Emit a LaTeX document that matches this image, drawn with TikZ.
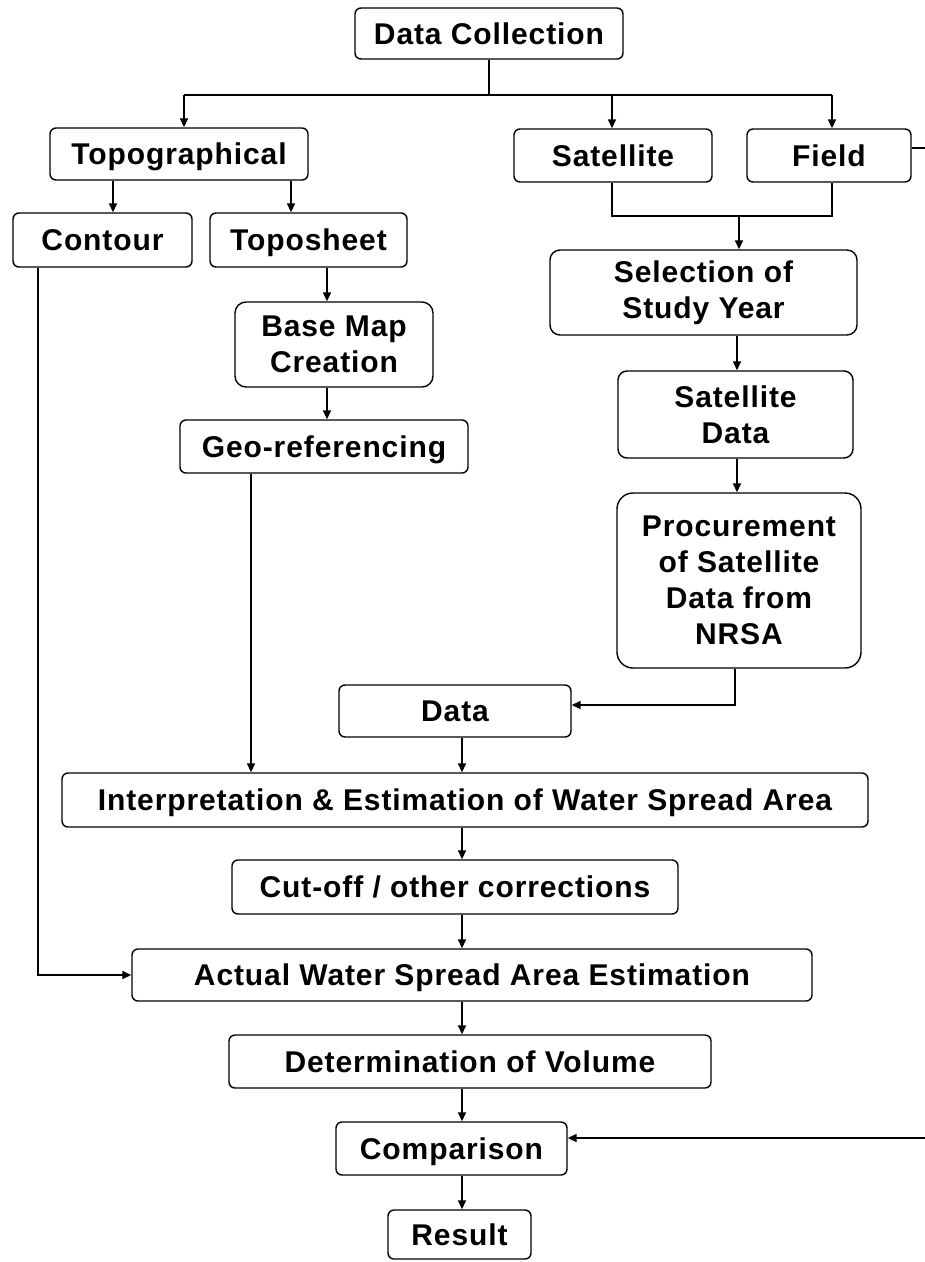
\documentclass[tikz,border=0pt]{standalone}
\usepackage{fontspec}
\setmainfont{Liberation Sans}[LetterSpace=3]
\usetikzlibrary{arrows.meta,calc}
\begin{document}
\begin{tikzpicture}[x=1pt,y=-1pt,
  box/.style={draw, line width=1.4pt, rounded corners=6pt, align=center,
    font=\fontsize{30}{36}\selectfont\bfseries, inner sep=0pt},
  sbox/.style={box, text height=21.5pt, text depth=0pt},
  con/.style={line width=1.5pt},
  arr/.style={con, -{Triangle[length=9pt,width=8pt]}}]
\useasboundingbox (0,0) rectangle (925,1262);
% nodes
\node[sbox, minimum width=268, minimum height=51] (dc) at (489,33.5) {Data Collection};
\node[sbox, minimum width=258, minimum height=52] (topo) at (179,154) {Topographical};
\node[sbox, minimum width=198, minimum height=53] (sat) at (613,155.5) {Satellite};
\node[sbox, minimum width=164, minimum height=53] (field) at (829,155.5) {Field};
\node[sbox, minimum width=179, minimum height=54] (contour) at (102.5,240) {Contour};
\node[sbox, minimum width=197, minimum height=54] (toposheet) at (308.5,240) {Toposheet};
\node[box, rounded corners=10pt, minimum width=307, minimum height=85] (sel) at (703.5,292.5) {Selection of\\Study Year};
\node[box, rounded corners=11pt, minimum width=198, minimum height=85] (basemap) at (334,344.5) {Base Map\\Creation};
\node[sbox, minimum width=288, minimum height=53] (geo) at (324,446.5) {Geo-referencing};
\node[box, rounded corners=9pt, minimum width=235, minimum height=87] (satdata) at (735.5,414.5) {Satellite\\Data};
\node[box, rounded corners=16pt, minimum width=244, minimum height=175] (proc) at (739,580.5) {Procurement\\of Satellite\\Data from\\NRSA};
\node[sbox, minimum width=232, minimum height=52] (data) at (455,711) {Data};
\node[sbox, minimum width=806, minimum height=54] (interp) at (465,800) {Interpretation \& Estimation of Water Spread Area};
\node[sbox, minimum width=446, minimum height=54] (cut) at (455,887) {Cut-off / other corrections};
\node[sbox, minimum width=680, minimum height=52] (actual) at (472,975) {Actual Water Spread Area Estimation};
\node[sbox, minimum width=482, minimum height=53] (det) at (470,1061.5) {Determination of Volume};
\node[sbox, minimum width=231, minimum height=53] (comp) at (451.5,1148.5) {Comparison};
\node[sbox, minimum width=143, minimum height=49] (result) at (459.5,1234.5) {Result};
% helper coordinates
\coordinate (hy) at (0,95);
\coordinate (xT) at (184,0);
\coordinate (xS) at (612,0);
\coordinate (xF) at (832,0);
\coordinate (jy) at (216,216);
\coordinate (xJ) at (739,0);
\coordinate (xC1) at (113,0);
\coordinate (xC2) at (291,0);
\coordinate (xCL) at (38,0);
\coordinate (xTS) at (327,0);
\coordinate (xG) at (251,0);
\coordinate (xR) at (737,0);
\coordinate (xP) at (735,0);
\coordinate (dy) at (0,705);
\coordinate (xM) at (462,0);
\coordinate (re1) at (925,148);
\coordinate (re2) at (925,1138);
% connectors
\draw[con] (dc.south) -- (dc.south |- hy);
\draw[con] (xT |- hy) -- (xF |- hy);
\draw[arr] (xT |- hy) -- (xT |- topo.north);
\draw[arr] (xS |- hy) -- (xS |- sat.north);
\draw[arr] (xF |- hy) -- (xF |- field.north);
\draw[con] (field.east |- re1) -- (re1);
\draw[con] (xS |- sat.south) -- (xS |- jy) -- (xF |- jy) -- (xF |- field.south);
\draw[arr] (xJ |- jy) -- (xJ |- sel.north);
\draw[arr] (xC1 |- topo.south) -- (xC1 |- contour.north);
\draw[arr] (xC2 |- topo.south) -- (xC2 |- toposheet.north);
\draw[arr] (xTS |- toposheet.south) -- (xTS |- basemap.north);
\draw[arr] (xTS |- basemap.south) -- (xTS |- geo.north);
\draw[arr] (xR |- sel.south) -- (xR |- satdata.north);
\draw[arr] (xR |- satdata.south) -- (xR |- proc.north);
\draw[arr] (xP |- proc.south) -- (xP |- dy) -- (data.east |- dy);
\draw[arr] (xG |- geo.south) -- (xG |- interp.north);
\draw[arr] (xM |- data.south) -- (xM |- interp.north);
\draw[arr] (xM |- interp.south) -- (xM |- cut.north);
\draw[arr] (xM |- cut.south) -- (xM |- actual.north);
\draw[arr] (xCL |- contour.south) |- (actual.west);
\draw[arr] (xM |- actual.south) -- (xM |- det.north);
\draw[arr] (xM |- det.south) -- (xM |- comp.north);
\draw[arr] (re2) -- (comp.east |- re2);
\draw[arr] (xM |- comp.south) -- (xM |- result.north);
\end{tikzpicture}
\end{document}
